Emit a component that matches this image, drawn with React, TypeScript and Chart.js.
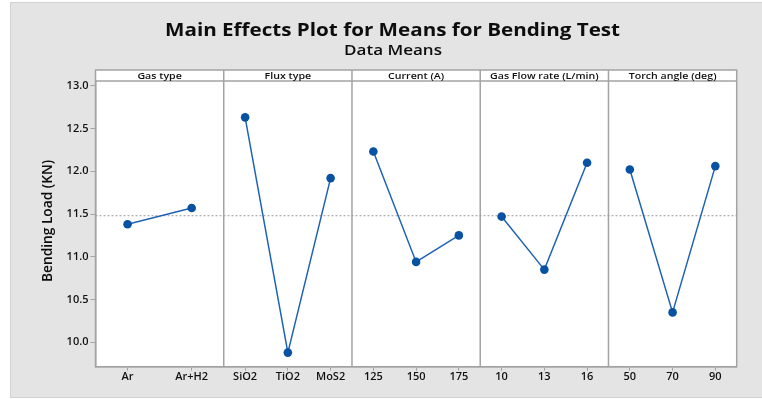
import React, { useEffect, useRef } from "react";
import { Chart, registerables } from "chart.js";

Chart.register(...registerables);

const chartTitle = "Main Effects Plot for Means for Bending Test";
const chartSubtitle = "Data Means";
const yAxisTitle = "Bending Load (KN)";

const factorNames = ["Gas type", "Flux type", "Current (A)", "Gas Flow rate (L/min)", "Torch angle (deg)"];

const gasTypeLevels = ["Ar", "Ar+H2"];
const gasTypeMeans = [11.38, 11.57];

const fluxTypeLevels = ["SiO2", "TiO2", "MoS2"];
const fluxTypeMeans = [12.63, 9.88, 11.92];

const currentLevels = ["125", "150", "175"];
const currentMeans = [12.23, 10.94, 11.25];

const gasFlowLevels = ["10", "13", "16"];
const gasFlowMeans = [11.47, 10.85, 12.1];

const torchAngleLevels = ["50", "70", "90"];
const torchAngleMeans = [12.02, 10.35, 12.06];

const overallMean = 11.48;

const yTickValues = [10.0, 10.5, 11.0, 11.5, 12.0, 12.5, 13.0];
const yMin = 9.715;
const yMax = 13.055;

const FONT = "'Open Sans', 'Noto Sans', sans-serif";
const FRAME = "#a3a3a3";

function drawFitted(ctx: CanvasRenderingContext2D, text: string, cx: number, baseline: number, targetWidth: number) {
  const w = ctx.measureText(text).width;
  const sx = w > 0 ? targetWidth / w : 1;
  ctx.save();
  ctx.translate(cx, baseline);
  ctx.scale(sx, 1);
  ctx.textAlign = "center";
  ctx.textBaseline = "alphabetic";
  ctx.fillText(text, 0, 0);
  ctx.restore();
}

export default function App() {
  const ref = useRef<HTMLCanvasElement | null>(null);

  useEffect(() => {
    const canvas = ref.current;
    if (!canvas) return;

    const panels = [
      { levels: gasTypeLevels, means: gasTypeMeans },
      { levels: fluxTypeLevels, means: fluxTypeMeans },
      { levels: currentLevels, means: currentMeans },
      { levels: gasFlowLevels, means: gasFlowMeans },
      { levels: torchAngleLevels, means: torchAngleMeans },
    ];

    const tickPositions: number[] = [];
    const tickLabels: string[] = [];
    const datasets: any[] = [];

    panels.forEach((p, pi) => {
      const n = p.levels.length;
      const pts = p.means.map((m, i) => {
        const x = pi + (i + 0.5) / n;
        tickPositions.push(x);
        tickLabels.push(p.levels[i]);
        return { x, y: m };
      });
      datasets.push({
        data: pts,
        showLine: true,
        borderColor: "#1f63b5",
        borderWidth: 1.5,
        backgroundColor: "#0752a3",
        pointBackgroundColor: "#0752a3",
        pointBorderColor: "#0752a3",
        pointRadius: 4.3,
        pointBorderWidth: 0,
        order: 1,
      });
    });

    datasets.push({
      data: [
        { x: 0, y: overallMean },
        { x: panels.length, y: overallMean },
      ],
      showLine: true,
      borderColor: "#9a9a9a",
      borderWidth: 1,
      borderDash: [2, 2],
      pointRadius: 0,
      order: 2,
    });

    const decor = {
      id: "decor",
      beforeDraw(chart: any) {
        const { ctx, width, height, chartArea } = chart;
        ctx.save();
        ctx.fillStyle = "#ffffff";
        ctx.fillRect(0, 0, width, height);
        ctx.fillStyle = "#e4e4e4";
        ctx.fillRect(10, 2, width - 10, height - 3);
        ctx.strokeStyle = "#d2d2d2";
        ctx.lineWidth = 1;
        ctx.strokeRect(10.5, 2.5, width - 10, height - 4);
        ctx.fillStyle = "#ffffff";
        ctx.fillRect(chartArea.left, chartArea.top - 11, chartArea.right - chartArea.left, chartArea.bottom - chartArea.top + 11);
        ctx.fillStyle = "#0d0d0d";
        ctx.font = `700 18px ${FONT}`;
        drawFitted(ctx, chartTitle, 392.5, 36, 455);
        ctx.font = `600 14px ${FONT}`;
        drawFitted(ctx, chartSubtitle, 393, 54.5, 98);
        ctx.save();
        ctx.translate(51.5, 221);
        ctx.rotate(-Math.PI / 2);
        ctx.font = `600 14.5px ${FONT}`;
        drawFitted(ctx, yAxisTitle, 0, 0, 122);
        ctx.restore();
        ctx.restore();
      },
      beforeDatasetsDraw(chart: any) {
        const { ctx, chartArea, scales } = chart;
        const xs = scales.x;
        const top = chartArea.top - 11;
        ctx.save();
        ctx.strokeStyle = FRAME;
        ctx.lineWidth = 1.5;
        for (let i = 1; i < panels.length; i++) {
          const px = xs.getPixelForValue(i);
          ctx.beginPath();
          ctx.moveTo(px, top);
          ctx.lineTo(px, chartArea.bottom);
          ctx.stroke();
        }
        ctx.strokeRect(chartArea.left, top, chartArea.right - chartArea.left, chartArea.bottom - top);
        ctx.beginPath();
        ctx.moveTo(chartArea.left, chartArea.top);
        ctx.lineTo(chartArea.right, chartArea.top);
        ctx.stroke();
        ctx.fillStyle = "#111111";
        ctx.font = `600 9px ${FONT}`;
        for (let i = 0; i < panels.length; i++) {
          const cx = (xs.getPixelForValue(i) + xs.getPixelForValue(i + 1)) / 2;
          const w = ctx.measureText(factorNames[i]).width * 1.18;
          drawFitted(ctx, factorNames[i], cx, top + 9, w);
        }
        ctx.restore();
      },
    };

    const chart = new Chart(canvas, {
      type: "scatter",
      data: { datasets },
      options: {
        animation: false,
        responsive: false,
        maintainAspectRatio: false,
        layout: { padding: { left: 0, top: 81, right: 25.3, bottom: 0 } },
        plugins: {
          legend: { display: false },
          tooltip: { enabled: false },
          title: { display: false },
        },
        scales: {
          x: {
            type: "linear",
            min: 0,
            max: panels.length,
            afterFit(scale: any) {
              scale.height = 32.3;
            },
            afterBuildTicks(scale: any) {
              scale.ticks = tickPositions.map((v) => ({ value: v }));
            },
            ticks: {
              autoSkip: false,
              maxRotation: 0,
              padding: 0,
              color: "#111111",
              font: { family: FONT, size: 11, weight: "600" },
              callback: (_v: any, i: number) => tickLabels[i],
            },
            grid: { drawOnChartArea: false, drawTicks: true, tickLength: 4, color: FRAME, lineWidth: 1 },
            border: { display: true, color: FRAME, width: 1.5 },
          },
          y: {
            type: "linear",
            min: yMin,
            max: yMax,
            afterFit(scale: any) {
              scale.width = 95.5;
            },
            afterBuildTicks(scale: any) {
              scale.ticks = yTickValues.map((v) => ({ value: v }));
            },
            ticks: {
              padding: 2,
              color: "#111111",
              font: { family: FONT, size: 11, weight: "600" },
              callback: (v: any) => Number(v).toFixed(1),
            },
            grid: { drawOnChartArea: false, drawTicks: true, tickLength: 5, color: FRAME, lineWidth: 1 },
            border: { display: true, color: FRAME, width: 1.5 },
          },
        },
      },
      plugins: [decor],
    });

    return () => chart.destroy();
  }, []);

  return (
    <div style={{ position: "absolute", left: 0, top: 0, width: 762, height: 399 }}>
      <canvas ref={ref} width={762} height={399} style={{ display: "block" }} />
    </div>
  );
}
